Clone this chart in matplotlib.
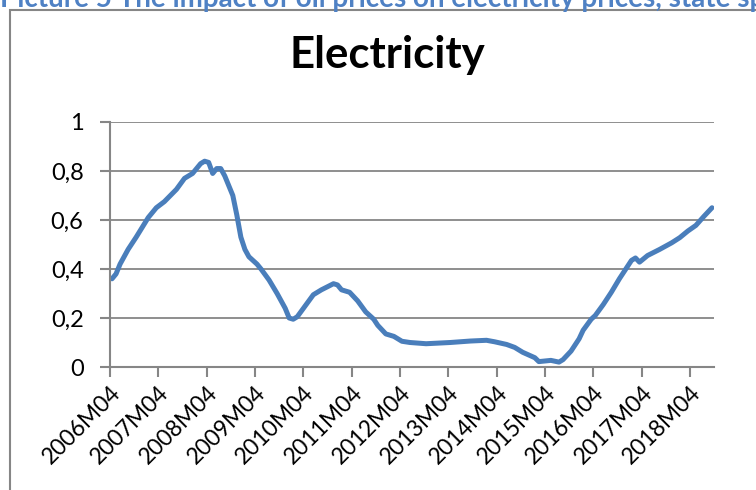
import matplotlib
matplotlib.use("Agg")
import matplotlib.pyplot as plt
from matplotlib.patches import Rectangle
from matplotlib.transforms import ScaledTranslation

# Monthly index since 2006M04 and the value
months = [0, 1, 2, 4, 6, 9, 11, 13, 16, 18, 20, 22, 23, 24, 25, 26, 27, 28,
          30, 31, 32, 33, 34, 36, 37, 39, 41, 43, 44, 45, 46, 48, 50, 52, 55,
          56, 57, 59, 61, 63, 65, 66, 68, 70, 72, 74, 78, 84, 89, 93, 95, 98,
          100, 102, 105, 106, 109, 111, 112, 114, 116, 117, 119, 120, 122,
          124, 126, 129, 130, 131, 133, 136, 139, 141, 143, 145, 147, 149]
values = [0.36, 0.38, 0.42, 0.48, 0.53, 0.61, 0.65, 0.675, 0.725, 0.77, 0.79,
          0.83, 0.84, 0.835, 0.79, 0.81, 0.81, 0.78, 0.70, 0.62, 0.53, 0.48,
          0.45, 0.42, 0.40, 0.355, 0.30, 0.24, 0.20, 0.195, 0.205, 0.25, 0.295,
          0.315, 0.34, 0.335, 0.315, 0.305, 0.27, 0.225, 0.195, 0.17, 0.135,
          0.125, 0.105, 0.10, 0.095, 0.10, 0.106, 0.109, 0.103, 0.092, 0.08,
          0.06, 0.038, 0.022, 0.027, 0.02, 0.03, 0.065, 0.115, 0.15, 0.195,
          0.21, 0.255, 0.305, 0.36, 0.435, 0.445, 0.428, 0.455, 0.48, 0.507,
          0.528, 0.555, 0.578, 0.615, 0.65]
n_months = 150
tick_labels = ["2006M04", "2007M04", "2008M04", "2009M04", "2010M04",
               "2011M04", "2012M04", "2013M04", "2014M04", "2015M04",
               "2016M04", "2017M04", "2018M04"]
y_ticks = [0, 0.2, 0.4, 0.6, 0.8, 1]

GRAY = "#868686"
BLUE = "#4a7ebb"
FONT = "Lato"

fig = plt.figure(figsize=(7.56, 4.9), dpi=100)

# caption above the chart frame, cropped by the picture edge as in the source
fig.text(0.0, 1 - 7 / 490, "Picture 5 The impact of oil prices on electricity prices, state specific",
         color="#4f81c4", fontsize=20, fontweight="bold", family=FONT,
         ha="left", va="baseline")

# chart frame (runs off the right and bottom edges)
fig.patches.append(Rectangle((10 / 756, -0.1), 1.2, 1 - 10 / 490 + 0.1,
                             transform=fig.transFigure, fill=False,
                             edgecolor=GRAY, lw=1.5))

ax = fig.add_axes([110 / 756, 1 - 367 / 490, (714 - 110) / 756, (367 - 122) / 490])

x = [m + 0.5 for m in months]
ax.plot(x, values, color=BLUE, lw=3.6, solid_joinstyle="round", solid_capstyle="round")

ax.set_xlim(0, n_months)
ax.set_ylim(0, 1)
ax.set_yticks(y_ticks)
ax.set_yticklabels([("%g" % v).replace(".", ",") for v in y_ticks],
                   fontsize=17, family=FONT)
ax.set_xticks(range(0, 12 * len(tick_labels), 12))
ax.set_xticklabels(tick_labels, rotation=45, ha="right", va="top",
                   rotation_mode="anchor", fontsize=16.5, family=FONT)
shift = ScaledTranslation(9 / 100, -3 / 100, fig.dpi_scale_trans)
for lab in ax.get_xticklabels():
    lab.set_transform(lab.get_transform() + shift)

ax.grid(axis="y", color=GRAY, lw=1.3)
ax.set_axisbelow(True)
for s in ["top", "right"]:
    ax.spines[s].set_visible(False)
for s in ["left", "bottom"]:
    ax.spines[s].set_color(GRAY)
    ax.spines[s].set_linewidth(1.5)
ax.tick_params(axis="both", color=GRAY, width=1.5, length=7, direction="out")
ax.tick_params(axis="y", pad=12)
ax.tick_params(axis="x", pad=4)

fig.text(387 / 756, 1 - 68 / 490, "Electricity", fontsize=31.5, fontweight="bold",
         family=FONT, ha="center", va="baseline")

fig.savefig("out.png", dpi=100)
